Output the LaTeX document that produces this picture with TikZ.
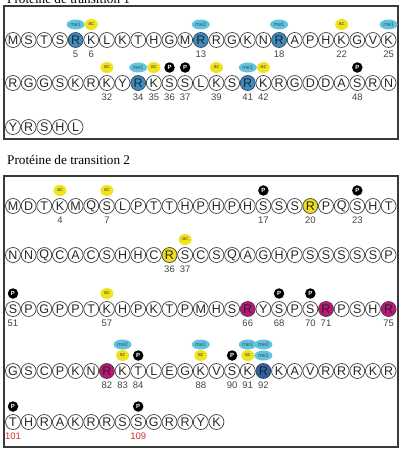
\documentclass[tikz,border=0pt]{standalone}
\usepackage{fontspec}
\setmainfont{Liberation Serif}
\setsansfont{Liberation Sans}
\usetikzlibrary{shapes.geometric}
\definecolor{ArgBlue}{HTML}{3A8CC6}
\definecolor{ArgDeep}{HTML}{2F62A8}
\definecolor{ArgPink}{HTML}{C0157A}
\definecolor{ArgYellow}{HTML}{EFE11E}
\definecolor{MeCyan}{HTML}{5EC4E0}
\definecolor{AcYellow}{HTML}{F0E31C}
\definecolor{FrameGray}{HTML}{3A3A3A}
\definecolor{NumGray}{HTML}{444444}
\definecolor{NumRed}{HTML}{D0312D}

% one row of residues, nodes named <prefix><number>
\newcommand{\seqrow}[4]{%
  \foreach \res [count=\n from #2] in {#4}
    \node[aa, #1\n/.try] (#1\n) at ({13+(\n-#2)*15.65},#3) {\res};%
}

\begin{document}
\begin{tikzpicture}[
  x=1pt,y=-1pt,
  aa/.style={
    circle,
    draw=black!75,
    line width=0.7pt,
    fill=white,
    minimum size=15pt,
    inner sep=0pt,
    font=\sffamily\fontsize{12.5}{13}\selectfont,
    text=black!85
  },
  mebadge/.style={
    ellipse,
    fill=MeCyan,
    minimum width=18pt,
    minimum height=10pt,
    inner sep=0pt,
    font=\sffamily\fontsize{5.5}{6}\selectfont,
    text=black!70
  },
  acbadge/.style={
    ellipse,
    fill=AcYellow,
    minimum width=13pt,
    minimum height=11pt,
    inner sep=0pt,
    font=\sffamily\fontsize{5.5}{6}\selectfont,
    text=black!70
  },
  pbadge/.style={
    circle,
    fill=black,
    minimum size=10.5pt,
    inner sep=0pt,
    font=\sffamily\bfseries\fontsize{6}{6}\selectfont,
    text=white
  },
  num/.style={
    inner sep=0pt,
    font=\sffamily\fontsize{9.5}{10}\selectfont,
    text=NumGray
  },
  frame/.style={draw=FrameGray, line width=1.2pt},
  title/.style={
    anchor=base west,
    inner sep=0pt,
    font=\fontsize{13.2}{15}\selectfont
  },
  % coloured residues
  a5/.style={fill=ArgBlue}, a13/.style={fill=ArgBlue}, a18/.style={fill=ArgBlue},
  a34/.style={fill=ArgBlue}, a41/.style={fill=ArgBlue},
  b20/.style={fill=ArgYellow}, b36/.style={fill=ArgYellow},
  b66/.style={fill=ArgPink}, b71/.style={fill=ArgPink}, b75/.style={fill=ArgPink},
  b82/.style={fill=ArgPink},
  b92/.style={fill=ArgDeep}
]
\useasboundingbox (0,0) rectangle (404,450);

% -------------------------------------------------
% Transition protein 1
% -------------------------------------------------
\node[title] (tp1) at (7,3.5) {Protéine de transition 1};
\draw[frame] (4,6) rectangle (398,139);

\seqrow{a}{1}{40}{M,S,T,S,R,K,L,K,T,H,G,M,R,R,G,K,N,R,A,P,H,K,G,V,K}
\seqrow{a}{26}{83}{R,G,G,S,K,R,K,Y,R,K,S,S,L,K,S,R,K,R,G,D,D,A,S,R,N}
\seqrow{a}{51}{127}{Y,R,S,H,L}

\foreach \k in {5,18,25,34,41}
  \node[mebadge] (ame\k) at ([yshift=15.5pt]a\k.center) {me1};
\node[mebadge] (ame13) at ([yshift=15.5pt]a13.center) {me2};
\foreach \k in {6,22,32,35,39,42}
  \node[acbadge] (aac\k) at ([yshift=15.5pt]a\k.center) {ac};
\foreach \k in {36,37,48}
  \node[pbadge] (ap\k) at ([yshift=15.5pt]a\k.center) {P};

\foreach \k in {5,6,13,18,22,25,32,34,35,36,37,39,41,42,48}
  \node[num] (an\k) at ([yshift=-14pt]a\k.center) {\k};

% -------------------------------------------------
% Transition protein 2
% -------------------------------------------------
\node[title] (tp2) at (7,164) {Protéine de transition 2};
\draw[frame, line width=1.6pt] (4,176) rectangle (398,447);

\seqrow{b}{1}{206}{M,D,T,K,M,Q,S,L,P,T,T,H,P,H,P,H,S,S,S,R,P,Q,S,H,T}
\seqrow{b}{26}{255}{N,N,Q,C,A,C,S,H,H,C,R,S,C,S,Q,A,G,H,P,S,S,S,S,S,P}
\seqrow{b}{51}{309}{S,P,G,P,P,T,K,H,P,K,T,P,M,H,S,R,Y,S,P,S,R,P,S,H,R}
\seqrow{b}{76}{371}{G,S,C,P,K,N,R,K,T,L,E,G,K,V,S,K,R,K,A,V,R,R,R,K,R}
\seqrow{b}{101}{422}{T,H,R,A,K,R,R,S,S,G,R,R,Y,K}

\foreach \k in {4,7,37,57,83,88,91}
  \node[acbadge] (bac\k) at ([yshift=15.5pt]b\k.center) {ac};
\foreach \k in {17,23,51,68,70,84,90,101,109}
  \node[pbadge] (bp\k) at ([yshift=15.5pt]b\k.center) {P};
\node[mebadge] (bme92) at ([yshift=15.5pt]b92.center) {me1};

% second level of marks
\node[mebadge] (bmm83) at ([yshift=26.5pt]b83.center) {me2};
\node[mebadge] (bmm88) at ([yshift=26.5pt]b88.center) {me1};
\node[mebadge] (bmm91) at ([yshift=26.5pt]b91.center) {me1};
\node[mebadge] (bmm92) at ([yshift=26.5pt]b92.center) {me2};

\foreach \k in {4,7,17,20,23,36,37,51,57,66,68,70,71,75,82,83,84,88,90,91,92}
  \node[num] (bn\k) at ([yshift=-14pt]b\k.center) {\k};
\foreach \k in {101,109}
  \node[num, text=NumRed] (bn\k) at ([yshift=-14pt]b\k.center) {\k};

\end{tikzpicture}
\end{document}
